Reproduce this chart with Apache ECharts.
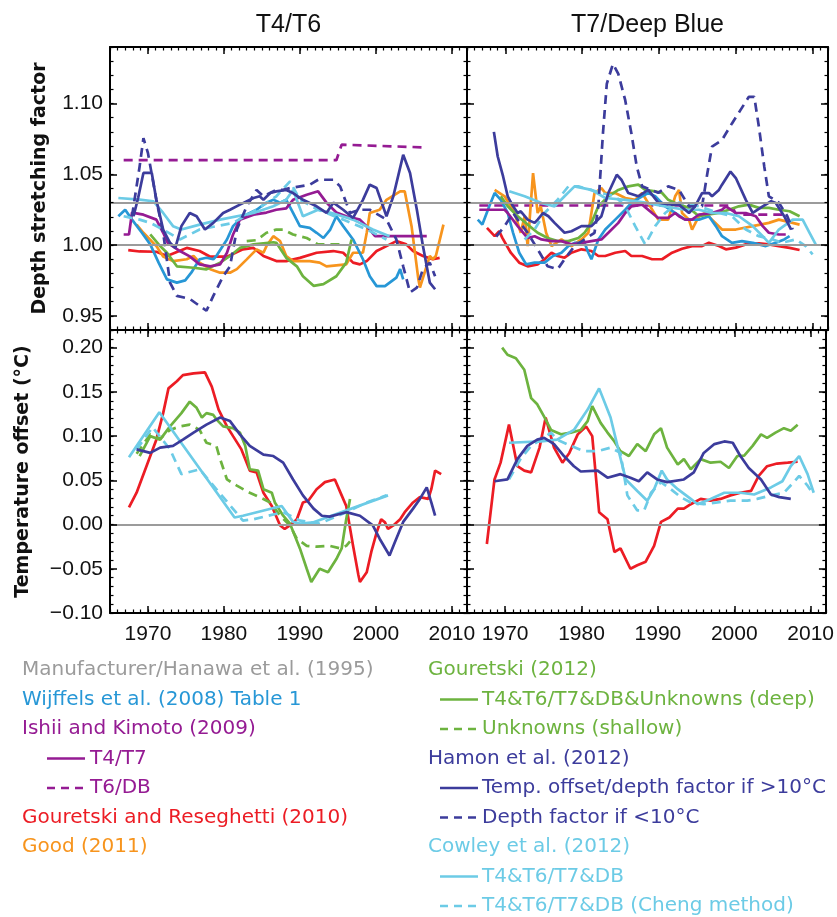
<!DOCTYPE html>
<html>
<head>
<meta charset="utf-8">
<script src="https://cdn.jsdelivr.net/npm/echarts@6/dist/echarts.min.js"></script>
<style>html,body{margin:0;padding:0;background:#fff;}#chart{width:837px;height:917px;}</style>
</head>
<body>
<div id="chart"></div>
<script>
// ---------------- data ----------------
const xRange = [1965, 2012];
const xTicks = [1970, 1980, 1990, 2000, 2010];
const depthRange = [0.94, 1.14];
const depthTicks = [0.95, 1.00, 1.05, 1.10];
const tempRange = [-0.10, 0.22];
const tempTicks = [-0.10, -0.05, 0.00, 0.05, 0.10, 0.15, 0.20];
const depthRefs = [1.0, 1.0336];
const tempRefs = [0.0];
const panelTitles = ['T4/T6', 'T7/Deep Blue'];
const yNames = ['Depth stretching factor', 'Temperature offset (\u00b0C)'];

// --- Depth stretching factor, T4/T6 ---
const tlIshiiSolid = [[1966.8,1.0075],[1967.5,1.0075],[1967.9,1.023],[1969.4,1.0215],[1971.1,1.018],[1972,1.0087],[1972.6,1.0016],[1974.2,0.9958],[1975.5,0.992],[1976.8,0.9864],[1978.2,0.985],[1979.5,0.9864],[1980.4,0.9946],[1981.2,1.0075],[1982.1,1.018],[1983.9,1.0215],[1985.6,1.023],[1986.9,1.025],[1988.2,1.026],[1989.1,1.032],[1990.9,1.0356],[1992.4,1.038],[1992.6,1.039],[1993.5,1.03],[1994.8,1.023],[1996.1,1.0204],[1997.9,1.018],[1999.2,1.011],[1999.9,1.0063],[2006.7,1.0063]];
const tlIshiiDashed = [[1966.8,1.06],[1994.8,1.06],[1995.5,1.071],[2006.7,1.069]];
const tlRed = [[1967.4,0.9965],[1968.9,0.9955],[1971.1,0.9953],[1972.5,0.9923],[1975.1,0.998],[1976.8,0.9958],[1978.2,0.9918],[1980.4,0.9918],[1982.5,0.997],[1983.9,0.998],[1985.2,0.9923],[1986.9,0.9887],[1988.2,0.9887],[1990,0.991],[1992.2,0.9946],[1994.4,0.9958],[1995.7,0.9946],[1997,0.9876],[1997.9,0.9864],[1998.8,0.9887],[2000.1,0.9958],[2001.4,0.9993],[2002.7,1.0028],[2004,1.0005],[2004.9,0.9958],[2006.2,0.9923],[2007.5,0.99],[2008.4,0.991]];
const tlGood = [[1968.5,1.0145],[1969.4,1.0087],[1971.1,0.9993],[1972,0.992],[1973.3,0.9887],[1975.1,0.99],[1976,0.9923],[1976.8,0.9876],[1978.2,0.983],[1979.5,0.9805],[1980.8,0.9805],[1981.7,0.983],[1983,0.9899],[1984.3,0.997],[1985.2,0.9946],[1985.6,0.9993],[1986.5,1.0063],[1987.4,1.0028],[1988.2,0.9923],[1989.1,0.9887],[1991.3,0.9887],[1992.6,0.9876],[1993.5,0.985],[1996.1,0.9864],[1997,0.9946],[1998.3,0.9946],[1998.8,1.0087],[1999.2,1.0227],[2000.5,1.025],[2001.4,1.032],[2003.2,1.038],[2003.8,1.038],[2004.7,1.0134],[2005.6,0.9758],[2005.8,0.97],[2007.1,0.9923],[2007.5,0.99],[2007.9,0.9923],[2008.9,1.0145]];
const tlGreenDeep = [[1970.3,1.0075],[1971.6,0.9993],[1972.5,0.9946],[1973.8,0.985],[1976,0.984],[1977.7,0.9829],[1979.5,0.9876],[1980.8,0.9923],[1982.1,0.998],[1983.9,1.0005],[1986.5,1.002],[1986.9,1.0016],[1988.2,0.991],[1989.6,0.985],[1990.4,0.978],[1991.8,0.9712],[1993.1,0.9724],[1994.8,0.978],[1996.1,0.9876],[1996.8,1.004]];
const tlGreenShallow = [[1983,1.0028],[1984.3,1.0035],[1985.6,1.0087],[1986.9,1.011],[1987.8,1.011],[1989.1,1.0075],[1990.9,1.005],[1992.4,1.0005],[1995.7,1.0005]];
const tlWijffels = [[1966.1,1.0204],[1967,1.025],[1967.9,1.018],[1969.2,1.0087],[1970.3,1.0005],[1971.4,0.9876],[1972.5,0.9758],[1973.8,0.9735],[1974.9,0.9751],[1975.7,0.9805],[1976.8,0.99],[1977.7,0.9911],[1978.6,0.99],[1979,0.9923],[1980.4,1.004],[1981.2,1.0134],[1982.5,1.0204],[1984.3,1.025],[1985.6,1.03],[1986.5,1.032],[1987.4,1.03],[1988.2,1.032],[1989.1,1.0227],[1990,1.0134],[1991.3,1.0122],[1992.2,1.0087],[1993.1,1.005],[1994,1.011],[1994.8,1.0204],[1995.7,1.0134],[1997,1.004],[1998.3,0.99],[1999.2,0.978],[2000.1,0.971],[2001.2,0.971],[2002.7,0.977],[2003.2,0.983],[2003.6,0.9758]];
const tlCowley = [[1966.1,1.0333],[1968.9,1.0322],[1970.7,1.031],[1972,1.0227],[1973.3,1.0134],[1974.4,1.011],[1976.8,1.0145],[1979.5,1.018],[1983.9,1.0227],[1986.5,1.0274],[1988.2,1.032],[1989.1,1.039],[1990.4,1.0204],[1992.4,1.025],[1994.2,1.0227],[1997,1.018],[1999.6,1.011],[2001.8,1.0063]];
const tlCheng = [[1966.8,1.0204],[1968.9,1.018],[1970.3,1.0157],[1972,1.011],[1974.2,1.004],[1976.8,1.011],[1981.2,1.0157],[1984.3,1.025],[1986.9,1.0345],[1988.7,1.045],[1990,1.032],[1992.4,1.025],[1995.7,1.018],[1998.8,1.011],[2001.4,1.004]];
const tlHamonWarm = [[1968.1,1.0204],[1968.7,1.0333],[1969.4,1.051],[1970.5,1.051],[1971.1,1.032],[1972,1.011],[1972.9,1.0016],[1973.6,0.998],[1974.4,1.0134],[1975.5,1.0227],[1976.4,1.0204],[1977.5,1.011],[1978.6,1.0157],[1979.9,1.0227],[1980.8,1.025],[1982.1,1.0286],[1983.9,1.0333],[1984.7,1.0345],[1985.2,1.032],[1986.1,1.0368],[1986.9,1.038],[1988.2,1.039],[1989.1,1.0368],[1990.4,1.032],[1992.2,1.0274],[1993.5,1.0227],[1994.4,1.03],[1995.7,1.025],[1997,1.0192],[1998.3,1.032],[1999.2,1.0427],[2000.1,1.0403],[2001.4,1.0204],[2002.3,1.0345],[2003.6,1.0638],[2004.5,1.051],[2005.4,1.025],[2006.2,0.9993],[2007.1,0.9735],[2007.8,0.9688]];
const tlHamonCold = [[1967.9,1.0204],[1968.9,1.0556],[1969.4,1.0755],[1970,1.065],[1971.1,1.032],[1972,1.0087],[1972.9,0.9735],[1973.8,0.9641],[1975.5,0.962],[1976.8,0.957],[1977.7,0.9536],[1978.6,0.9641],[1979.9,0.978],[1980.8,0.985],[1981.7,1.011],[1983,1.0274],[1984.3,1.039],[1985.2,1.0345],[1986.9,1.039],[1987.8,1.039],[1988.7,1.0403],[1991.3,1.0427],[1992.4,1.0462],[1994.4,1.0462],[1995.3,1.0415],[1996.6,1.0227],[1997.9,1.025],[1999.2,1.025],[2001.4,1.018],[2002.7,1.004],[2003.6,0.985],[2004.5,0.9665],[2005.4,0.97],[2006.2,0.983],[2007.1,0.9876],[2007.8,0.978]];

// --- Depth stretching factor, T7/Deep Blue ---
const trIshiiSolid = [[1966.6,1.025],[1969.9,1.025],[1970.3,1.0227],[1971.6,1.0134],[1972.9,1.005],[1973.8,1.0063],[1974.7,1.004],[1976,1.0028],[1977.3,1.0028],[1978.6,1.0005],[1979.9,1.0016],[1981.2,1.0028],[1982.5,1.004],[1983.4,1.0087],[1984.7,1.0157],[1985.6,1.0227],[1986.4,1.0274],[1987.8,1.0286],[1989.1,1.0227],[1989.9,1.0192],[1991.2,1.0192],[1992.1,1.0227],[1992.6,1.0204],[1993.4,1.018],[1994.3,1.018],[1995.2,1.0216],[1996.9,1.0227],[1998.2,1.025],[1998.7,1.0274],[2000,1.0227],[2001.3,1.0227],[2002.6,1.0204],[2003.5,1.0134],[2004.3,1.0087],[2005.6,1.0075],[2006.5,1.0075]];
const trIshiiDashed = [[1966.6,1.028],[1999.5,1.028],[2000,1.0216],[2006.6,1.0216]];
const trRed = [[1967.6,1.0122],[1968.6,1.0063],[1969.2,1.0098],[1969.6,1.0051],[1970.7,0.9946],[1971.8,0.9876],[1972.9,0.985],[1974.2,0.9864],[1975.1,0.99],[1976,0.9946],[1976.8,0.9923],[1977.7,0.9911],[1978.6,0.9946],[1979.9,0.997],[1981.2,0.9958],[1982.1,0.9923],[1983,0.9923],[1984.3,0.9946],[1985.6,0.9958],[1986.4,0.9923],[1987.8,0.9923],[1989.1,0.99],[1990.4,0.99],[1991.7,0.9946],[1993,0.9974],[1994.3,0.9993],[1995.6,0.9993],[1996.5,1.0016],[1997.8,0.9993],[1998.7,0.997],[2000,0.9982],[2001.3,1.0005],[2003,1.0012],[2004.3,1.0005],[2005.6,0.9993],[2007,0.998],[2008.3,0.9965]];
const trGood = [[1968.6,1.039],[1969.9,1.0345],[1971.2,1.0227],[1972,1.0087],[1972.5,1.0204],[1972.9,0.9993],[1973.6,1.0509],[1974.2,1.0227],[1974.6,1.0274],[1975.3,1.0087],[1976,0.9993],[1977.3,1.004],[1978.6,0.9993],[1979.9,1.004],[1980.8,1.0087],[1981.6,1.0368],[1982.5,1.0403],[1983,1.0368],[1984.3,1.0368],[1985.6,1.0333],[1986.9,1.032],[1987.8,1.0368],[1989.9,1.018],[1991.2,1.018],[1992.1,1.0345],[1992.6,1.039],[1993,1.0227],[1993.9,1.018],[1994.3,1.011],[1995.2,1.0204],[1996,1.0227],[1996.9,1.018],[1998.2,1.011],[2000,1.011],[2002.2,1.0134],[2004.3,1.0157],[2005.6,1.018],[2007.4,1.0157],[2008.3,1.0145]];
const trGreenDeep = [[1969.4,1.0345],[1970.3,1.0274],[1971.6,1.0204],[1972.9,1.0145],[1974.2,1.0087],[1975.5,1.005],[1976.8,1.0028],[1978.2,1.0028],[1979.5,1.005],[1980.3,1.0087],[1981.2,1.0157],[1982.1,1.0274],[1983.4,1.0345],[1984.7,1.039],[1986,1.0415],[1987.3,1.0427],[1988.2,1.039],[1989.5,1.038],[1990.4,1.0368],[1991.2,1.032],[1992.6,1.0286],[1993.9,1.0263],[1995.2,1.0204],[1996.5,1.0216],[1997.8,1.0227],[1999.1,1.025],[2000.4,1.0274],[2001.7,1.0286],[2003,1.0263],[2004.3,1.0263],[2005.6,1.025],[2007,1.0239],[2008.3,1.0204]];
const trWijffels = [[1966.4,1.018],[1967,1.0145],[1967.9,1.0274],[1968.6,1.0368],[1969.4,1.032],[1970.3,1.0227],[1971,1.0087],[1971.8,0.9946],[1972.7,0.9864],[1973.8,0.9876],[1975.1,0.9876],[1976.2,0.9923],[1977.3,0.9946],[1978.2,0.9993],[1979,1.0016],[1980.3,1.0016],[1980.8,0.9946],[1981.2,0.99],[1982.1,1.004],[1983,1.011],[1984.3,1.018],[1985.6,1.025],[1986.4,1.0298],[1987.8,1.0345],[1988.6,1.0368],[1989.5,1.0345],[1990.8,1.0274],[1992.1,1.0227],[1993.4,1.018],[1995.2,1.018],[1996.5,1.0204],[1997.4,1.0134],[1998.2,1.0063],[1999.5,1.0016],[2000.8,1.0028],[2002.2,1.0016],[2003.9,0.9993],[2005.2,1.0016],[2006.3,1.004],[2007,1.0063]];
const trCowley = [[1970.5,1.038],[1972.5,1.0345],[1974.7,1.0298],[1976.4,1.0274],[1977.7,1.0345],[1979,1.0415],[1981.2,1.039],[1983,1.0333],[1985.6,1.032],[1988.2,1.03],[1990.8,1.0274],[1993.4,1.025],[1995.2,1.025],[1996.9,1.0227],[1998.7,1.0227],[2000.4,1.0204],[2002.2,1.0134],[2003.5,1.0063],[2004.3,1.0016],[2005.6,1.011],[2007.4,1.018],[2008.7,1.018],[2009.6,1.0087],[2010.4,1.0005]];
const trCheng = [[1972.5,1.004],[1973.8,1.011],[1975.1,1.0227],[1976.8,1.032],[1978.2,1.0415],[1979.5,1.0415],[1982.5,1.0368],[1984.3,1.0345],[1985.6,1.0274],[1986.9,1.0134],[1988.2,1.0005],[1989.5,1.0134],[1990.8,1.0227],[1992.6,1.03],[1995.2,1.0274],[1997.8,1.0227],[1999.5,1.0204],[2001.3,1.011],[2003,1.0063],[2004.8,1.004],[2006,1.0016],[2007.8,1.004],[2009.1,0.9993],[2010,0.9934]];
const trHamonWarm = [[1968.5,1.08],[1969,1.0626],[1969.7,1.0485],[1970.3,1.0345],[1971,1.0274],[1971.6,1.0227],[1972,1.0239],[1972.9,1.018],[1973.8,1.0157],[1974.2,1.018],[1974.9,1.0227],[1975.6,1.0204],[1976.4,1.0157],[1977.7,1.0087],[1978.6,1.0098],[1979.9,1.0134],[1981.2,1.0134],[1982.5,1.0204],[1983.4,1.0368],[1984.5,1.0497],[1985.1,1.0462],[1986,1.0368],[1987.3,1.0345],[1988.6,1.039],[1989.9,1.03],[1991.7,1.0286],[1992.6,1.0286],[1993.9,1.0227],[1994.7,1.0274],[1995.6,1.0368],[1996.5,1.0368],[1996.9,1.0345],[1997.8,1.039],[1998.2,1.0427],[1999.3,1.052],[2000,1.0474],[2001.3,1.032],[2002.2,1.0227],[2003.5,1.0274],[2004.6,1.031],[2005.2,1.0298],[2006.3,1.0204],[2007.2,1.011]];
const trHamonCold = [[1968.8,1.006],[1969.9,1.0134],[1971,1.0227],[1971.6,1.018],[1972.9,1.0087],[1974.2,0.997],[1975.5,0.985],[1976.8,0.983],[1977.7,0.99],[1979,0.9993],[1980.3,1.004],[1981.6,1.0087],[1982.1,1.0274],[1982.7,1.079],[1983.2,1.114],[1984,1.128],[1984.7,1.121],[1985.6,1.1024],[1986.4,1.079],[1987.1,1.0556],[1987.8,1.0415],[1989.9,1.037],[1991.2,1.0415],[1992.6,1.039],[1993.9,1.0274],[1995.6,1.0274],[1996.3,1.051],[1996.9,1.0696],[1998.2,1.0743],[1999.5,1.086],[2000.6,1.0954],[2001.7,1.1048],[2002.4,1.1048],[2003,1.0837],[2003.7,1.0556],[2004.3,1.0345],[2005.6,1.03],[2006.7,1.0204],[2007.4,1.011]];

// --- Temperature offset, T4/T6 ---
const blRed = [[1967.5,0.0195],[1968.5,0.036],[1969.8,0.066],[1971.1,0.096],[1972,0.126],[1972.7,0.154],[1973.8,0.162],[1974.6,0.169],[1976,0.171],[1977.5,0.172],[1978.4,0.156],[1979.3,0.13],[1980.4,0.111],[1981.2,0.1],[1982.3,0.085],[1983.4,0.061],[1984.3,0.059],[1985.2,0.036],[1986.3,0.021],[1987.4,-0.001],[1988,-0.005],[1988.7,-0.001],[1989.6,0.006],[1990.4,0.025],[1991.1,0.027],[1992.2,0.04],[1993.3,0.048],[1994.6,0.051],[1995.5,0.033],[1996.1,0.021],[1997,-0.024],[1997.7,-0.057],[1997.9,-0.065],[1998.8,-0.054],[1999.4,-0.031],[2000.1,-0.009],[2000.7,0.006],[2001.2,0.0025],[2001.6,-0.005],[2002.3,-0.001],[2003.2,0.006],[2003.8,0.014],[2004.9,0.025],[2005.8,0.031],[2006.9,0.029],[2007.3,0.04],[2007.8,0.061],[2008.6,0.057]];
const blGreenDeep = [[1968.9,0.0775],[1970.3,0.1],[1971.6,0.096],[1972.9,0.111],[1974.4,0.126],[1975.5,0.139],[1976.4,0.132],[1977.1,0.121],[1977.7,0.126],[1978.6,0.124],[1979,0.119],[1979.9,0.111],[1981.2,0.109],[1982.1,0.104],[1982.8,0.089],[1983.4,0.0625],[1984.5,0.061],[1985.2,0.04],[1986.3,0.036],[1986.7,0.025],[1987.8,0.01],[1988.7,0.001],[1990,-0.027],[1990.9,-0.05],[1991.5,-0.065],[1992.6,-0.05],[1993.7,-0.054],[1994.8,-0.039],[1995.5,-0.027],[1996.1,0.006],[1996.6,0.029]];
const blGreenShallow = [[1968.5,0.08],[1970.3,0.102],[1971.6,0.097],[1972.9,0.107],[1974.2,0.111],[1975.5,0.113],[1976.8,0.107],[1977.7,0.0925],[1979,0.089],[1979.5,0.074],[1980.4,0.051],[1981.7,0.044],[1983.4,0.036],[1984.7,0.031],[1986.1,0.025],[1987.4,0.01],[1988.7,-0.001],[1989.6,-0.016],[1990.9,-0.024],[1992.2,-0.025],[1993.9,-0.024],[1995.3,-0.027],[1996.1,-0.024],[1996.6,-0.019]];
const blHamon = [[1968.5,0.085],[1970.3,0.081],[1971.6,0.087],[1973.3,0.089],[1974.6,0.096],[1976,0.104],[1977.7,0.113],[1979.5,0.121],[1980.8,0.117],[1982.1,0.102],[1983.4,0.089],[1985.2,0.079],[1986.5,0.0775],[1987.8,0.07],[1989.1,0.051],[1990.4,0.033],[1991.8,0.018],[1992.9,0.01],[1993.9,0.009],[1996.1,0.014],[1997.9,0.01],[1999.6,-0.001],[2000.5,-0.016],[2001.8,-0.035],[2002.5,-0.02],[2003.6,0.003],[2004.9,0.018],[2005.8,0.029],[2006.7,0.042],[2007.3,0.025],[2007.8,0.01]];
const blCowley = [[1967.5,0.076],[1971.5,0.127],[1981.4,0.008],[1982.5,0.01],[1987.6,0.021],[1989.1,0.003],[1990,0.001],[1991.8,0.0025],[2001.6,0.033]];
const blCheng = [[1968.5,0.085],[1970.6,0.11],[1972.9,0.085],[1974.4,0.057],[1976.8,0.0625],[1982.5,0.0045],[1983.9,0.006],[1987.8,0.014],[1990,0.0045],[1992.6,0.001],[1996.1,0.014],[1998.8,0.025],[2001.4,0.033]];

// --- Temperature offset, T7/Deep Blue ---
const brGreenDeep = [[1969.6,0.2],[1970.3,0.192],[1971.4,0.188],[1972.5,0.175],[1973.4,0.143],[1974.2,0.136],[1975.1,0.122],[1976,0.107],[1977.3,0.102],[1978.6,0.104],[1979.9,0.107],[1980.8,0.117],[1981.4,0.134],[1982.5,0.115],[1983.4,0.104],[1984.3,0.094],[1985.1,0.083],[1986.2,0.0775],[1987.3,0.091],[1988.4,0.083],[1989.5,0.102],[1990.4,0.109],[1991.2,0.087],[1992.6,0.068],[1993.4,0.074],[1994.3,0.0625],[1995.6,0.074],[1996.9,0.07],[1998.2,0.071],[1999.3,0.064],[2000.4,0.0775],[2001.3,0.078],[2002.4,0.089],[2003.5,0.102],[2004.3,0.098],[2005.4,0.104],[2006.5,0.109],[2007.4,0.106],[2008.3,0.113]];
const brRed = [[1967.6,-0.022],[1968.6,0.051],[1969.4,0.07],[1970.5,0.113],[1971.6,0.066],[1972.5,0.061],[1973.4,0.059],[1974.5,0.087],[1975.3,0.121],[1976.4,0.087],[1977.5,0.07],[1978.4,0.081],[1979.5,0.102],[1980.6,0.111],[1981.4,0.1],[1982.3,0.014],[1983.4,0.006],[1984.3,-0.031],[1985.1,-0.027],[1986.4,-0.05],[1987.3,-0.046],[1988.4,-0.042],[1989.5,-0.024],[1990.4,0.003],[1991.5,0.008],[1992.6,0.018],[1993.4,0.018],[1994.3,0.023],[1995.6,0.029],[1996.9,0.027],[1998.2,0.029],[1999.5,0.033],[2000.8,0.036],[2002.2,0.038],[2003.2,0.055],[2004.3,0.066],[2005.6,0.069],[2007,0.07],[2008.3,0.071]];
const brHamon = [[1968.6,0.049],[1970.3,0.051],[1971.6,0.074],[1972.9,0.089],[1974.2,0.096],[1975.1,0.098],[1976.4,0.091],[1977.7,0.0775],[1979,0.066],[1979.9,0.06],[1982.1,0.061],[1983.4,0.053],[1985.1,0.057],[1986.4,0.053],[1987.5,0.049],[1988.6,0.059],[1989.9,0.051],[1991.2,0.048],[1993.4,0.051],[1994.7,0.059],[1996,0.081],[1997.4,0.091],[1998.7,0.094],[1999.8,0.0925],[2000.8,0.0775],[2001.9,0.064],[2003.5,0.051],[2004.8,0.034],[2005.9,0.031],[2007.4,0.029]];
const brCowley = [[1970.5,0.0925],[1974.7,0.094],[1976.8,0.096],[1979,0.107],[1980.8,0.13],[1982.3,0.154],[1983.8,0.121],[1984.7,0.089],[1985.8,0.051],[1987.3,0.038],[1988.6,0.027],[1989.5,0.04],[1990.5,0.061],[1991.2,0.051],[1992.6,0.04],[1994.3,0.029],[1995.2,0.023],[1996.9,0.029],[1998.7,0.036],[2000.8,0.036],[2002.6,0.034],[2004.8,0.042],[2006.3,0.049],[2007.4,0.066],[2008.5,0.0775],[2009.6,0.057],[2010.4,0.036]];
const brCheng = [[1970.5,0.051],[1972,0.074],[1973.4,0.089],[1974.7,0.096],[1976,0.104],[1976.8,0.096],[1978.6,0.089],[1980.3,0.083],[1982.1,0.083],[1983.8,0.087],[1985.1,0.081],[1986,0.033],[1987.3,0.016],[1988.2,0.016],[1989.1,0.036],[1990.4,0.048],[1991.7,0.04],[1993,0.031],[1994.3,0.025],[1996,0.023],[1997.8,0.025],[1999.5,0.027],[2001.7,0.027],[2003,0.029],[2004.8,0.033],[2006.5,0.036],[2007.8,0.048],[2008.5,0.055],[2009.6,0.044],[2010.2,0.036]];

// legend texts
const legendLeft = [
  ['Manufacturer/Hanawa et al. (1995)', 'gray', null],
  ['Wijffels et al. (2008) Table 1', 'wijffels', null],
  ['Ishii and Kimoto (2009)', 'ishii', null],
  ['T4/T7', 'ishii', 'solid'],
  ['T6/DB', 'ishii', 'dashed'],
  ['Gouretski and Reseghetti (2010)', 'red', null],
  ['Good (2011)', 'orange', null]
];
const legendRight = [
  ['Gouretski (2012)', 'green', null],
  ['T4&T6/T7&DB&Unknowns (deep)', 'green', 'solid'],
  ['Unknowns (shallow)', 'green', 'dashed'],
  ['Hamon et al. (2012)', 'hamon', null],
  ['Temp. offset/depth factor if >10\u00b0C', 'hamon', 'solid'],
  ['Depth factor if <10\u00b0C', 'hamon', 'dashed'],
  ['Cowley et al. (2012)', 'cowley', null],
  ['T4&T6/T7&DB', 'cowley', 'solid'],
  ['T4&T6/T7&DB (Cheng method)', 'cowley', 'dashed']
];

// ---------------- styling / layout ----------------
const C = {
  gray: '#9b9b9b', wijffels: '#2797d6', ishii: '#951b93', red: '#ec1c24',
  orange: '#f7941d', green: '#6db33f', hamon: '#3c3c9c', cowley: '#6ccbe6'
};
const grids = [
  {left: 110, top: 47, width: 357, height: 283},
  {left: 467, top: 47, width: 361, height: 283},
  {left: 110, top: 330, width: 357, height: 283},
  {left: 467, top: 330, width: 361, height: 283}
];
const tickFont = {fontFamily: '"Liberation Sans", Arial, sans-serif', fontSize: 21, color: '#111'};
const fmtY = v => Number(v).toFixed(2).replace('-', '\u2212');
const fmtX = v => String(Math.round(v));

const xAxes = [], yAxes = [];
function addAxes(g, yr, yTicks, showX, showY, yName, nameGap) {
  const base = {gridIndex: g, type: 'value', splitLine: {show: false}, silent: true, z: 5};
  ['bottom', 'top'].forEach(pos => {
    xAxes.push(Object.assign({}, base, {
      position: pos, min: xRange[0], max: xRange[1],
      axisLine: {show: true, onZero: false, lineStyle: {color: '#000', width: 2}},
      axisTick: {show: true, inside: true, length: 7, customValues: xTicks, lineStyle: {color: '#000', width: 1.5}},
      axisLabel: Object.assign({show: showX && pos === 'bottom', customValues: xTicks, margin: 11, formatter: fmtX}, tickFont)
    }));
  });
  ['bottom', 'top'].forEach(pos => {
    xAxes.push(Object.assign({}, base, {
      position: pos, min: xRange[0], max: xRange[1], interval: 1,
      axisLine: {show: false, onZero: false},
      axisTick: {show: true, inside: true, length: 3.5, lineStyle: {color: '#000', width: 1.2}},
      axisLabel: {show: false}
    }));
  });
  ['left', 'right'].forEach(pos => {
    yAxes.push(Object.assign({}, base, {
      position: pos, min: yr[0], max: yr[1],
      name: (pos === 'left' && showY) ? yName : '',
      nameLocation: 'middle', nameGap: nameGap,
      nameTextStyle: {fontFamily: '"DejaVu Sans", sans-serif', fontSize: 19, fontWeight: 'bold', color: '#111'},
      axisLine: {show: true, onZero: false, lineStyle: {color: '#000', width: 2}},
      axisTick: {show: true, inside: true, length: 7, customValues: yTicks, lineStyle: {color: '#000', width: 1.5}},
      axisLabel: Object.assign({show: showY && pos === 'left', customValues: yTicks, margin: 7, formatter: fmtY}, tickFont)
    }));
  });
  ['left', 'right'].forEach(pos => {
    yAxes.push(Object.assign({}, base, {
      position: pos, min: yr[0], max: yr[1], interval: 0.01,
      axisLine: {show: false, onZero: false},
      axisTick: {show: true, inside: true, length: 3.5, lineStyle: {color: '#000', width: 1.2}},
      axisLabel: {show: false}
    }));
  });
}
addAxes(0, depthRange, depthTicks, false, true, yNames[0], 60);
addAxes(1, depthRange, depthTicks, false, false, '', 0);
addAxes(2, tempRange, tempTicks, true, true, yNames[1], 77);
addAxes(3, tempRange, tempTicks, true, false, '', 0);

const series = [];
function refLines(g, vals) {
  series.push({
    type: 'line', xAxisIndex: 4 * g, yAxisIndex: 4 * g, data: [], silent: true,
    markLine: {symbol: 'none', silent: true, label: {show: false}, animation: false,
      lineStyle: {color: '#9b9b9b', width: 2, type: 'solid'},
      data: vals.map(v => ({yAxis: v}))}
  });
}
function line(g, data, color, dashed) {
  series.push({
    type: 'line', xAxisIndex: 4 * g, yAxisIndex: 4 * g, data: data,
    symbol: 'none', showSymbol: false, silent: true, animation: false,
    lineStyle: {color: color, width: 2.7, type: dashed ? [9, 6] : 'solid'},
    itemStyle: {color: color}
  });
}
refLines(0, depthRefs); refLines(1, depthRefs); refLines(2, tempRefs); refLines(3, tempRefs);

// T4/T6 depth
line(0, tlIshiiDashed, C.ishii, true);
line(0, tlRed, C.red, false);
line(0, tlGood, C.orange, false);
line(0, tlWijffels, C.wijffels, false);
line(0, tlGreenShallow, C.green, true);
line(0, tlGreenDeep, C.green, false);
line(0, tlIshiiSolid, C.ishii, false);
line(0, tlCheng, C.cowley, true);
line(0, tlCowley, C.cowley, false);
line(0, tlHamonCold, C.hamon, true);
line(0, tlHamonWarm, C.hamon, false);
// T7/DB depth
line(1, trIshiiDashed, C.ishii, true);
line(1, trRed, C.red, false);
line(1, trGood, C.orange, false);
line(1, trWijffels, C.wijffels, false);
line(1, trGreenDeep, C.green, false);
line(1, trIshiiSolid, C.ishii, false);
line(1, trCheng, C.cowley, true);
line(1, trCowley, C.cowley, false);
line(1, trHamonCold, C.hamon, true);
line(1, trHamonWarm, C.hamon, false);
// T4/T6 temp
line(2, blRed, C.red, false);
line(2, blGreenShallow, C.green, true);
line(2, blGreenDeep, C.green, false);
line(2, blCheng, C.cowley, true);
line(2, blCowley, C.cowley, false);
line(2, blHamon, C.hamon, false);
// T7/DB temp
line(3, brRed, C.red, false);
line(3, brGreenDeep, C.green, false);
line(3, brCheng, C.cowley, true);
line(3, brCowley, C.cowley, false);
line(3, brHamon, C.hamon, false);

// graphic: titles and legend
const graphic = [];
const centers = [grids[0].left + grids[0].width / 2, grids[1].left + grids[1].width / 2];
panelTitles.forEach((t, i) => graphic.push({
  type: 'text', x: centers[i], y: 25, silent: true,
  style: {text: t, fill: '#111', align: 'center', verticalAlign: 'middle', font: '25px "Liberation Sans", Arial, sans-serif'}
}));
const legFont = '20px "DejaVu Sans", sans-serif';
function legendColumn(items, x0, sampleX, textX) {
  items.forEach((it, i) => {
    const y = 670 + i * 29.5;
    const color = C[it[1]];
    if (it[2]) {
      graphic.push({type: 'line', silent: true,
        shape: {x1: sampleX[0], y1: y, x2: sampleX[1], y2: y},
        style: {stroke: color, lineWidth: 2.5, lineDash: it[2] === 'dashed' ? [8, 6] : null}});
      graphic.push({type: 'text', x: textX, y: y, silent: true,
        style: {text: it[0], fill: color, align: 'left', verticalAlign: 'middle', font: legFont}});
    } else {
      graphic.push({type: 'text', x: x0, y: y, silent: true,
        style: {text: it[0], fill: color, align: 'left', verticalAlign: 'middle', font: legFont}});
    }
  });
}
legendColumn(legendLeft, 22, [47, 85], 90);
legendColumn(legendRight, 428, [440, 478], 482);

const chart = echarts.init(document.getElementById('chart'), null, {renderer: 'canvas'});
chart.setOption({
  animation: false,
  backgroundColor: '#fff',
  grid: grids,
  xAxis: xAxes,
  yAxis: yAxes,
  series: series,
  graphic: graphic
});
</script>
</body>
</html>
